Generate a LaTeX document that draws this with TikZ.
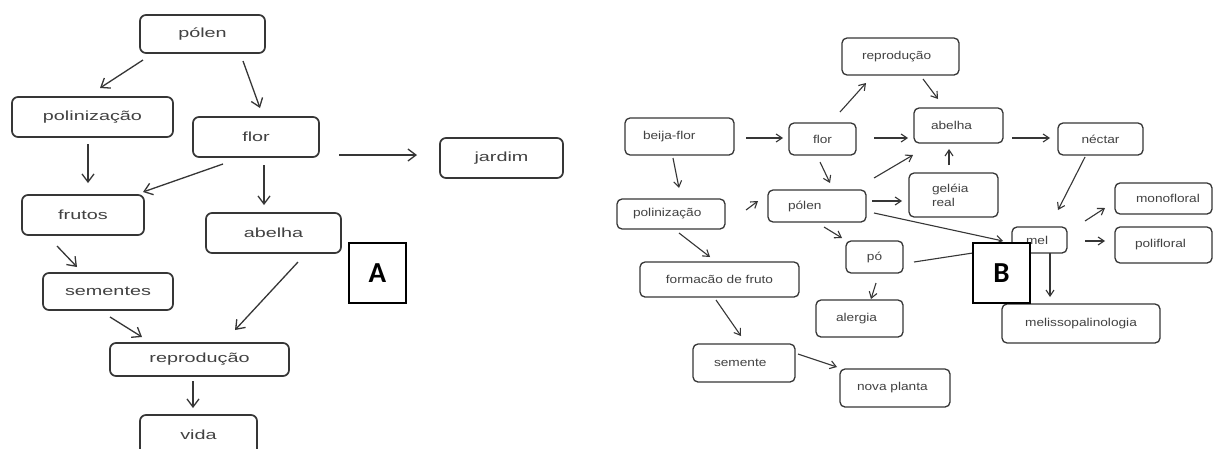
\documentclass[tikz,border=0pt]{standalone}
\usepackage{fontspec}
\setmainfont{Liberation Sans}
\newfontfamily\fA[FakeStretch=1.5]{Liberation Sans}
\newfontfamily\fB[FakeStretch=1.2]{Liberation Sans}
\newfontfamily\fL{Carlito}
\usetikzlibrary{arrows.meta}
\definecolor{ln}{HTML}{363636}
\definecolor{tx}{HTML}{424242}
\begin{document}
\begin{tikzpicture}[x=1pt,y=-1pt,
 boxA/.style={draw=ln, line width=1.7pt, rounded corners=6pt, fill=white, text=tx, inner sep=0pt, align=center, font=\fA\fontsize{13.2}{15}\selectfont},
 boxB/.style={draw=ln, line width=1.3pt, rounded corners=5pt, fill=white, text=tx, inner sep=0pt, align=center, font=\fB\fontsize{11.4}{14}\selectfont},
 lft/.style={align=left},
 arrA/.style={draw=ln, line width=1.3pt, -{Straight Barb[length=8pt,width=12pt]}},
 arrB/.style={draw=ln, line width=1.1pt, -{Straight Barb[length=6pt,width=8pt]}},
 lineB/.style={draw=ln, line width=1.1pt},
 tag/.style={draw=black, line width=2.2pt, fill=white, inner sep=0pt, minimum width=57pt, minimum height=60pt, font=\fL\bfseries\fontsize{29}{30}\selectfont}
]
\path[use as bounding box, fill=white] (0,0) rectangle (1214,448);
\clip (0,0) rectangle (1214,448);

% ---------- A ----------
\node[boxA, minimum width=125pt, minimum height=38pt] (pA) at (202.5,34) {pólen};
\node[boxA, minimum width=161pt, minimum height=40pt] (poliA) at (92.5,117) {polinização};
\node[boxA, minimum width=126pt, minimum height=40pt] (florA) at (256,137) {flor};
\node[boxA, minimum width=122pt, minimum height=40pt] (frutA) at (83,215) {frutos};
\node[boxA, minimum width=135pt, minimum height=40pt] (abA) at (273.5,233) {abelha};
\node[boxA, minimum width=130pt, minimum height=37pt] (semA) at (108,291.5) {sementes};
\node[boxA, minimum width=179pt, minimum height=33pt] (repA) at (199.5,359.5) {reprodução};
\node[boxA, minimum width=117pt, minimum height=40pt] (vidaA) at (198.5,435) {vida};
\node[boxA, minimum width=123pt, minimum height=40pt] (jarA) at (501.5,158) {jardim};

\draw[arrA] ([shift={(-59.5,26)}]pA.center) -- ([shift={(7.5,-29)}]poliA.center);
\draw[arrA] ([shift={(40.5,27)}]pA.center) -- ([shift={(4,-29)}]florA.center);
\draw[arrA] ([shift={(-4.5,27)}]poliA.center) -- ([shift={(5,-32)}]frutA.center);
\draw[arrA] ([shift={(-33,27)}]florA.center) -- ([shift={(60,-23)}]frutA.center);
\draw[arrA] ([shift={(8,28)}]florA.center) -- ([shift={(-9.5,-28)}]abA.center);
\draw[arrA] ([shift={(83,18)}]florA.center) -- ([shift={(-84.5,-3)}]jarA.center);
\draw[arrA] ([shift={(-26,31)}]frutA.center) -- ([shift={(-31,-24.5)}]semA.center);
\draw[arrA] ([shift={(2,25.5)}]semA.center) -- ([shift={(-57.5,-22.5)}]repA.center);
\draw[arrA] ([shift={(24.5,29)}]abA.center) -- ([shift={(35.5,-29.5)}]repA.center);
\draw[arrA] ([shift={(-6.5,21.5)}]repA.center) -- ([shift={(-5.5,-27)}]vidaA.center);

\node[tag] (tagA) at (377.5,273) {A};

% ---------- B ----------
\node[boxB, lft, minimum height=37pt, text width=73pt, inner xsep=18pt] (bf) at (679.5,136.5) {beija-flor};
\node[boxB, minimum width=67pt, minimum height=32pt] (flB) at (822.5,139) {flor};
\node[boxB, lft, minimum height=37pt, text width=77pt, inner xsep=20pt] (repB) at (900.5,56.5) {reprodução};
\node[boxB, lft, minimum height=35pt, text width=55pt, inner xsep=17pt] (abB) at (958.5,125.5) {abelha};
\node[boxB, lft, minimum height=44pt, text width=43pt, inner xsep=23pt] (gel) at (953.5,195) {geléia\\real};
\node[boxB, lft, minimum height=30pt, text width=76pt, inner xsep=16pt] (poliB) at (671,214) {polinização};
\node[boxB, lft, minimum height=32pt, text width=58pt, inner xsep=20pt] (polB) at (817,206) {pólen};
\node[boxB, minimum width=57pt, minimum height=32pt] (po) at (874.5,257) {pó};
\node[boxB, minimum width=159pt, minimum height=35pt] (form) at (719.5,279.5) {formacão de fruto};
\node[boxB, lft, minimum height=37pt, text width=47pt, inner xsep=20pt] (aler) at (859.5,318.5) {alergia};
\node[boxB, lft, minimum height=38pt, text width=60pt, inner xsep=21pt] (seme) at (744,363) {semente};
\node[boxB, lft, minimum height=38pt, text width=76pt, inner xsep=17pt] (nova) at (895,388) {nova planta};
\node[boxB, minimum width=85pt, minimum height=32pt] (nec) at (1100.5,139) {néctar};
\node[boxB, lft, minimum height=31pt, text width=55pt, inner xsep=21pt] (mono) at (1163.5,198.5) {monofloral};
\node[boxB, lft, minimum height=36pt, text width=57pt, inner xsep=20pt] (polif) at (1163.5,245) {polifloral};
\node[boxB, lft, minimum height=26pt, text width=27pt, inner xsep=14pt] (mel) at (1039.5,240) {mel};
\node[boxB, minimum width=158pt, minimum height=39pt] (meli) at (1081,323.5) {melissopalinologia};

\draw[arrB] ([shift={(66.5,1.5)}]bf.center) -- ([shift={(-39.5,-1)}]flB.center);
\draw[arrB] ([shift={(-6.5,21.5)}]bf.center) -- ([shift={(8,-26)}]poliB.center);
\draw[arrB] ([shift={(17.5,-27)}]flB.center) -- ([shift={(-34.5,26.5)}]repB.center);
\draw[arrB] ([shift={(22.5,22.5)}]repB.center) -- ([shift={(-20.5,-26.5)}]abB.center);
\draw[arrB] ([shift={(51.5,-1)}]flB.center) -- ([shift={(-50.5,12.5)}]abB.center);
\draw[arrB] ([shift={(-2.5,23)}]flB.center) -- ([shift={(13,-23)}]polB.center);
\draw[arrB] ([shift={(75,-4)}]poliB.center) -- ([shift={(-59,-5)}]polB.center);
\draw[arrB] ([shift={(57,-28)}]polB.center) -- ([shift={(-45.5,29.5)}]abB.center);
\draw[arrB] ([shift={(55,-5)}]polB.center) -- ([shift={(-51.5,6)}]gel.center);
\draw[arrB] ([shift={(-4.5,-30)}]gel.center) -- ([shift={(-9.5,23.5)}]abB.center);
\draw[arrB] ([shift={(53.5,12.5)}]abB.center) -- ([shift={(-50.5,-1)}]nec.center);
\draw[arrB] ([shift={(-15.5,18)}]nec.center) -- ([shift={(18.5,-30)}]mel.center);
\draw[arrB] ([shift={(57,7)}]polB.center) -- ([shift={(-36.5,1)}]mel.center);
\draw[lineB] ([shift={(39.5,5)}]po.center) -- ([shift={(-27.5,7)}]mel.center);
\draw[arrB] ([shift={(1.5,26)}]po.center) -- ([shift={(11.5,-19.5)}]aler.center);
\draw[arrB] ([shift={(7,21)}]polB.center) -- ([shift={(-32.5,-19)}]po.center);
\draw[arrB] ([shift={(8,19)}]poliB.center) -- ([shift={(-9.5,-22.5)}]form.center);
\draw[arrB] ([shift={(-3.5,20.5)}]form.center) -- ([shift={(-3,-27)}]seme.center);
\draw[arrB] ([shift={(54,-9)}]seme.center) -- ([shift={(-58,-21)}]nova.center);
\draw[arrB] ([shift={(45.5,-19)}]mel.center) -- ([shift={(-58.5,9.5)}]mono.center);
\draw[arrB] ([shift={(45.5,1)}]mel.center) -- ([shift={(-58.5,-4)}]polif.center);
\draw[arrB] ([shift={(10.5,13)}]mel.center) -- ([shift={(-31,-26.5)}]meli.center);

\node[tag] (tagB) at (1001.5,273) {B};
\end{tikzpicture}
\end{document}
